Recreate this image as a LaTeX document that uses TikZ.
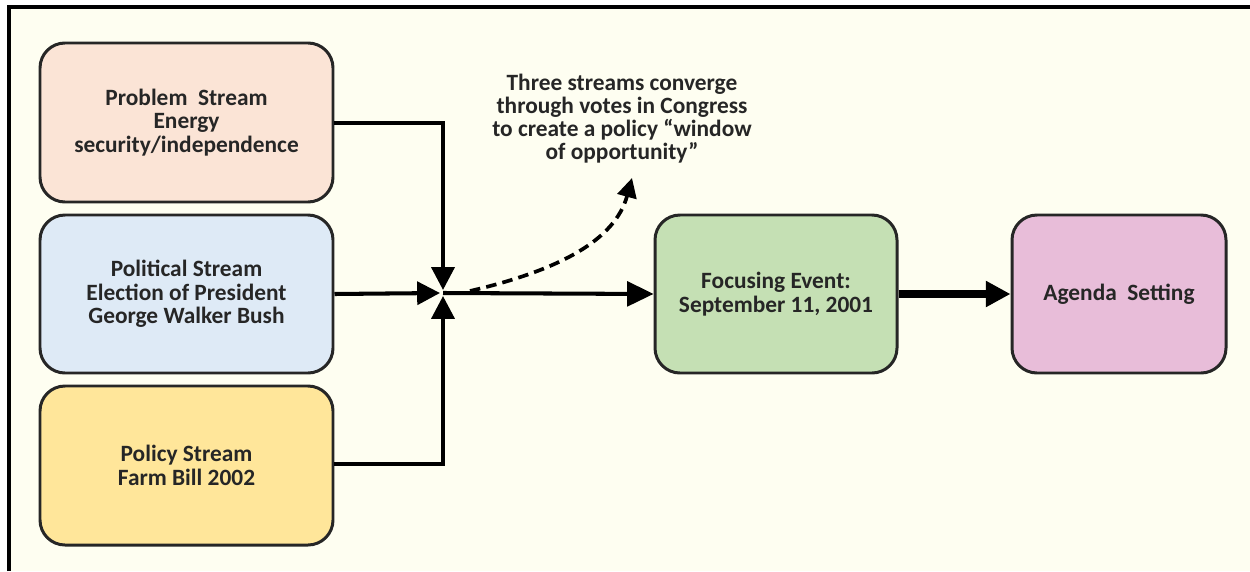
\documentclass[tikz,border=0pt]{standalone}
\usepackage{fontspec}
\setmainfont{Carlito}
\usetikzlibrary{arrows.meta}
\definecolor{cream}{HTML}{FEFEF1}
\definecolor{peach}{HTML}{FBE4D6}
\definecolor{lblue}{HTML}{DEEAF6}
\definecolor{lyellow}{HTML}{FFE69A}
\definecolor{lgreen}{HTML}{C5E0B4}
\definecolor{lpink}{HTML}{E8BDD9}
\begin{document}
\begin{tikzpicture}[x=0.02cm,y=-0.02cm,
  box/.style={draw=black!85, line width=1.7pt, rounded corners=0.5cm, align=center,
    font=\fontsize{13.3}{13.3}\selectfont\bfseries, text=black!85, inner sep=0pt},
  conn/.style={line width=2.3pt, draw=black},
  tip/.style={-{Triangle[length=13pt,width=13pt]}}]
\useasboundingbox (0,0) rectangle (1250,571);
\fill[white] (0,0) rectangle (1250,571);
\fill[cream] (9,7) rectangle (1250,571);
\draw[line width=1.8pt] (9,571) -- (9,7) -- (1250,7);
\node[box, fill=peach, minimum width=293*0.02cm, minimum height=159*0.02cm] (prob) at (186.5,122.5) {Problem\ \ Stream\\Energy\\security/independence};
\node[box, fill=lblue, minimum width=293*0.02cm, minimum height=158*0.02cm] (pol) at (186.5,294) {Political Stream\\Election of President\\George Walker Bush};
\node[box, fill=lyellow, minimum width=293*0.02cm, minimum height=159*0.02cm] (polic) at (186.5,465.5) {Policy Stream\\Farm Bill 2002};
\node[box, fill=lgreen, minimum width=242*0.02cm, minimum height=158*0.02cm] (focus) at (776,294) {Focusing Event:\\September 11, 2001};
\node[box, fill=lpink, minimum width=214*0.02cm, minimum height=158*0.02cm] (agenda) at (1119,294) {Agenda\ \ Setting};
\coordinate (j) at (443,293);
\coordinate (jt) at (443,290);
\coordinate (jl) at (440,293);
\coordinate (jb) at (443,296);
\coordinate (cs) at (470,291);
\coordinate (ce) at (632,178);
\node[align=center, font=\fontsize{13.3}{13.1}\selectfont\bfseries, text=black!85] (txt) at (622,119) {Three streams converge\\through votes in Congress\\to create a policy “window\\of opportunity”};
\draw[conn, tip] (prob.east |- 0,123) -| (jt);
\draw[conn, tip] (pol.east) -- (jl);
\draw[conn, tip] (polic.east |- 0,464) -| (jb);
\draw[conn, -{Triangle[length=15pt,width=14pt]}] (j) -- (focus.west);
\draw[line width=4.8pt, -{Triangle[length=14pt,width=14pt]}] (focus.east) -- (agenda.west);
\draw[line width=2.1pt, dash pattern=on 6pt off 3.5pt, -{Triangle[length=11pt,width=11pt]}] (cs) .. controls (560,270) and (615,240) .. (ce);
\end{tikzpicture}
\end{document}
